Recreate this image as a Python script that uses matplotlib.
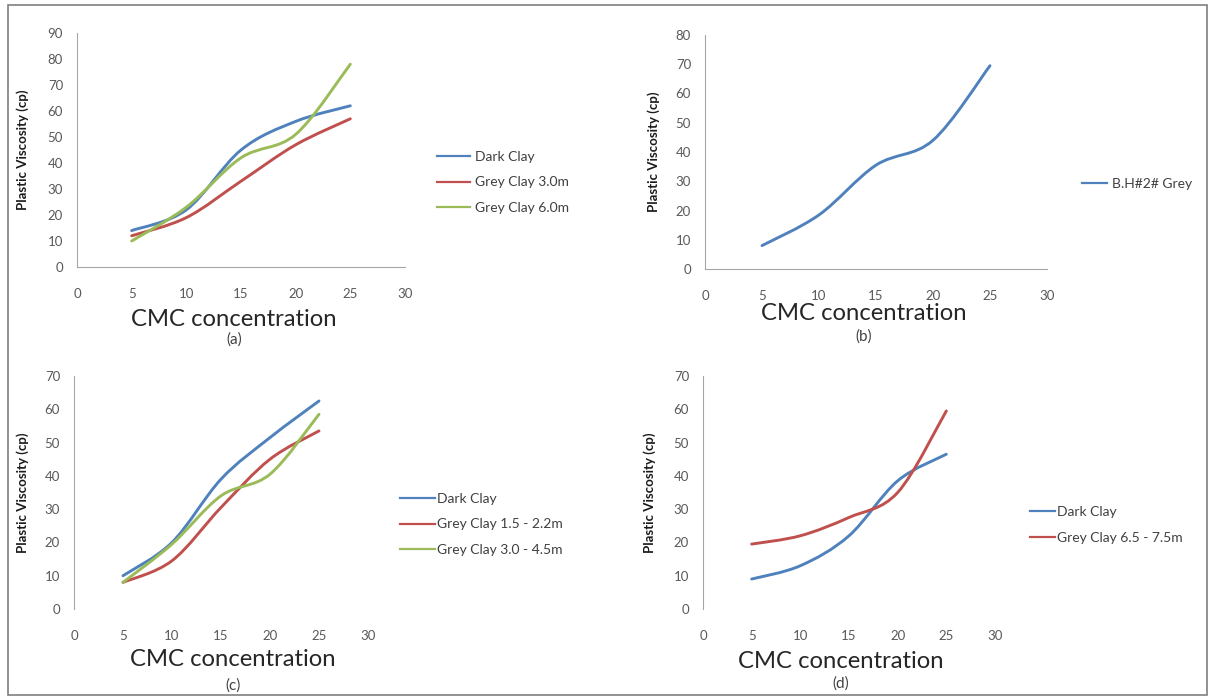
import numpy as np
import matplotlib
matplotlib.use("Agg")
import matplotlib.pyplot as plt
from matplotlib.path import Path
from matplotlib.patches import PathPatch, Rectangle
from matplotlib.lines import Line2D

plt.rcParams['font.family'] = ['Lato', 'DejaVu Sans']

# CMC concentration values shared by all four panels
cmc = [5, 10, 15, 20, 25]

# (a)
a_dark = [14, 22, 45, 56, 62]
a_grey30 = [12, 19, 33, 47, 57]
a_grey60 = [10, 23, 42, 51, 78]
# (b)
b_bh2 = [8, 18.5, 35.5, 44, 69.5]
# (c)
c_dark = [10, 20, 39, 51.5, 62.5]
c_grey15 = [8, 14.5, 30.5, 45, 53.5]
c_grey30 = [8, 19.5, 34, 40.5, 58.5]
# (d)
d_dark = [9, 13, 22, 38.5, 46.5]
d_grey65 = [19.5, 22, 27.5, 35, 59.5]

BLUE = '#4F81BD'
RED = '#C0504D'
GREEN = '#9BBB59'

W, H = 1215, 698


def fx(px):
    return px / W


def fy(py):
    return 1 - py / H


def smooth_path(xs, ys):
    # Catmull-Rom style bezier, like a spreadsheet "smoothed line"
    pts = np.column_stack([xs, ys]).astype(float)
    n = len(pts)
    verts = [pts[0]]
    codes = [Path.MOVETO]
    for i in range(n - 1):
        p0 = pts[max(i - 1, 0)]
        p1 = pts[i]
        p2 = pts[i + 1]
        p3 = pts[min(i + 2, n - 1)]
        verts += [p1 + (p2 - p0) / 6, p2 - (p3 - p1) / 6, p2]
        codes += [Path.CURVE4] * 3
    return Path(verts, codes)


def make_axes(fig, left, right, top, bottom, ymax, show_xline, ylab_px):
    ax = fig.add_axes([fx(left), fy(bottom), fx(right - left), (bottom - top) / H])
    ax.set_xlim(0, 30)
    ax.set_ylim(0, ymax)
    ax.set_xticks(range(0, 31, 5))
    ax.set_yticks(range(0, ymax + 1, 10))
    for s in ['top', 'right']:
        ax.spines[s].set_visible(False)
    ax.spines['left'].set_color('#a6a6a6')
    ax.spines['bottom'].set_color('#a6a6a6')
    ax.spines['bottom'].set_visible(show_xline)
    ax.tick_params(length=0, labelsize=9.5, labelcolor='#595959')
    ax.tick_params(axis='x', pad=15)
    ax.tick_params(axis='y', pad=10)
    ax.set_ylabel('Plastic Viscosity (cp)', fontsize=9.5, fontweight='bold', color='#1a1a1a')
    # ylab_px: horizontal pixel offset of the label from the y axis line
    ax.yaxis.set_label_coords(ylab_px / (right - left), 0.5)
    ax.patch.set_alpha(0)
    return ax


def add_series(ax, ys, color):
    ax.add_patch(PathPatch(smooth_path(cmc, ys), fill=False, edgecolor=color,
                           lw=2.1, capstyle='round', joinstyle='round'))


def add_legend(fig, ax, labels, colors, x, y, hlen, hpad):
    handles = [Line2D([], [], color=c, lw=1.6) for c in colors]
    leg = ax.legend(handles, labels, loc='center left', bbox_to_anchor=(fx(x), fy(y)),
                    bbox_transform=fig.transFigure, frameon=False, fontsize=10,
                    handlelength=hlen, handletextpad=hpad, labelspacing=0.98,
                    borderpad=0, borderaxespad=0)
    for t in leg.get_texts():
        t.set_color('#404040')


fig = plt.figure(figsize=(W / 100, H / 100), dpi=100)

# outer frame
fig.add_artist(Rectangle((fx(8), fy(695)), fx(1199), (695 - 5) / H, transform=fig.transFigure,
                         fill=False, edgecolor='#7f7f7f', lw=1.2))

# (a)
ax = make_axes(fig, 77, 405, 33, 267, 90, True, -48)
add_series(ax, a_dark, BLUE)
add_series(ax, a_grey30, RED)
add_series(ax, a_grey60, GREEN)
add_legend(fig, ax, ['Dark Clay', 'Grey Clay 3.0m', 'Grey Clay 6.0m'], [BLUE, RED, GREEN],
           437, 182.5, 2.4, 0.36)

# (b)
ax = make_axes(fig, 705, 1047, 35, 269, 80, True, -45)
add_series(ax, b_bh2, BLUE)
add_legend(fig, ax, ['B.H#2# Grey'], [BLUE], 1082, 184, 1.8, 0.36)

# (c)
ax = make_axes(fig, 74, 368, 376, 609, 70, False, -45)
add_series(ax, c_dark, BLUE)
add_series(ax, c_grey15, RED)
add_series(ax, c_grey30, GREEN)
add_legend(fig, ax, ['Dark Clay', 'Grey Clay 1.5 - 2.2m', 'Grey Clay 3.0 - 4.5m'],
           [BLUE, RED, GREEN], 400, 524.5, 2.5, 0.15)

# (d)
ax = make_axes(fig, 703, 995, 376, 609, 70, False, -47)
add_series(ax, d_dark, BLUE)
add_series(ax, d_grey65, RED)
add_legend(fig, ax, ['Dark Clay', 'Grey Clay 6.5 - 7.5m'], [BLUE, RED], 1030, 525, 1.8, 0.15)

# axis titles and panel captions
for x, y, cap, cy in [(234, 320, '(a)', 340), (864, 313, '(b)', 337),
                      (233, 660, '(c)', 686), (841, 662, '(d)', 684)]:
    fig.text(fx(x), fy(y), 'CMC concentration', ha='center', va='center',
             fontsize=17.2, color='#262626')
    fig.text(fx(x), fy(cy), cap, ha='center', va='center', fontsize=11, color='#404040')

fig.savefig('out.png', dpi=100)
